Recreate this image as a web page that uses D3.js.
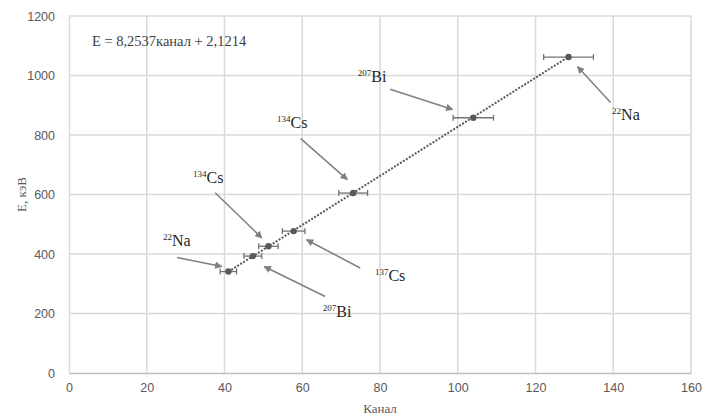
<!DOCTYPE html>
<html>
<head>
<meta charset="utf-8">
<script src="https://cdn.jsdelivr.net/npm/d3@7"></script>
<style>
  body { margin: 0; background: #fff; }
  svg { display: block; }
</style>
</head>
<body>
<svg id="chart" width="708" height="418"></svg>
<script>
// channel / energy of the Compton edges
var channels = [41.0, 47.3, 51.3, 57.8, 73.1, 104.0, 128.5];
var energies = [341, 393, 426, 477, 605, 858, 1062];
var chErrors = [2.1, 2.3, 2.5, 2.9, 3.7, 5.2, 6.4];

var xTicks = [0, 20, 40, 60, 80, 100, 120, 140, 160];
var yTicks = [0, 200, 400, 600, 800, 1000, 1200];

// linear fit E = a*channel + b
var fitSlope = 8.2537;
var fitIntercept = 2.1214;

// labels: [mass, element, label x, label y, arrow from x, from y, arrow to x, to y] (data units)
var notes = [
	["22", "Na", 24.2, 428, 27.8, 388, 39.3, 358],
	["207", "Bi", 65.3, 189, 65.9, 257, 50.2, 358],
	["134", "Cs", 31.9, 637, 37.6, 606, 49.6, 454],
	["137", "Cs", 78.7, 310, 74.9, 353, 61.1, 448],
	["134", "Cs", 53.5, 822, 59.6, 788, 71.6, 650],
	["207", "Bi", 74.3, 977, 82.6, 954, 98.7, 886],
	["22", "Na", 139.7, 849, 139.3, 909, 130.8, 1030]
];

var svg = d3.select("#chart"),
	margin = {top: 16, right: 17, bottom: 45, left: 69},
	width = +svg.attr("width") - margin.left - margin.right,
	height = +svg.attr("height") - margin.top - margin.bottom;

var x = d3.scaleLinear().domain([0, 160]).range([0, width]);
var y = d3.scaleLinear().domain([0, 1200]).range([height, 0]);

var g = svg.append("g")
	.attr("transform", "translate(" + margin.left + "," + margin.top + ")");

var defs = svg.append("defs");
defs.append("marker")
	.attr("id", "arrow")
	.attr("viewBox", "0 0 10 10")
	.attr("refX", 9).attr("refY", 5)
	.attr("markerWidth", 5).attr("markerHeight", 5)
	.attr("orient", "auto")
	.append("path")
	.attr("d", "M0,0 L10,5 L0,10 z")
	.attr("fill", "#808080");

// grid
g.append("g").selectAll("line")
	.data(yTicks.slice(1))
	.enter().append("line")
	.attr("x1", 0).attr("x2", width)
	.attr("y1", function(d) { return y(d); })
	.attr("y2", function(d) { return y(d); })
	.attr("stroke", "#d9d9d9").attr("stroke-width", 1.5);

g.append("g").selectAll("line")
	.data(xTicks.slice(1))
	.enter().append("line")
	.attr("y1", 0).attr("y2", height)
	.attr("x1", function(d) { return x(d); })
	.attr("x2", function(d) { return x(d); })
	.attr("stroke", "#d9d9d9").attr("stroke-width", 1.5);

// axes
var xAxis = g.append("g")
	.attr("transform", "translate(0," + height + ")")
	.call(d3.axisBottom(x).tickValues(xTicks).tickFormat(d3.format("d")).tickSize(0).tickPadding(10));
var yAxis = g.append("g")
	.call(d3.axisLeft(y).tickValues(yTicks).tickFormat(d3.format("d")).tickSize(0).tickPadding(14));

xAxis.select(".domain").attr("stroke", "#bfbfbf").attr("stroke-width", 1.5);
yAxis.select(".domain").attr("stroke", "#d9d9d9").attr("stroke-width", 1.5);
svg.selectAll(".tick text")
	.attr("fill", "#595959")
	.style("font-family", "'Liberation Sans', Arial, sans-serif")
	.style("font-size", "12.5px");

// axis titles
svg.append("text")
	.attr("x", margin.left + width / 2)
	.attr("y", 413)
	.attr("text-anchor", "middle")
	.attr("fill", "#595959")
	.style("font-family", "'Liberation Serif', serif")
	.style("font-size", "13px")
	.text("Канал");

svg.append("text")
	.attr("transform", "translate(26," + (margin.top + height / 2) + ") rotate(-90)")
	.attr("text-anchor", "middle")
	.attr("fill", "#595959")
	.style("font-family", "'Liberation Serif', serif")
	.style("font-size", "13px")
	.text("Е, кэВ");

// trend line
var xMin = d3.min(channels), xMax = d3.max(channels);
g.append("line")
	.attr("x1", x(xMin)).attr("y1", y(fitSlope * xMin + fitIntercept))
	.attr("x2", x(xMax)).attr("y2", y(fitSlope * xMax + fitIntercept))
	.attr("stroke", "#595959")
	.attr("stroke-width", 2)
	.attr("stroke-dasharray", "2,1.5");

// error bars
var pts = channels.map(function(c, i) { return {c: c, e: energies[i], err: chErrors[i]}; });

var eb = g.append("g").attr("stroke", "#737373").attr("stroke-width", 1.3);
eb.selectAll("line.bar")
	.data(pts).enter().append("line")
	.attr("class", "bar")
	.attr("x1", function(d) { return x(d.c - d.err); })
	.attr("x2", function(d) { return x(d.c + d.err); })
	.attr("y1", function(d) { return y(d.e); })
	.attr("y2", function(d) { return y(d.e); });
eb.selectAll("line.capl")
	.data(pts).enter().append("line")
	.attr("class", "capl")
	.attr("x1", function(d) { return x(d.c - d.err); })
	.attr("x2", function(d) { return x(d.c - d.err); })
	.attr("y1", function(d) { return y(d.e) - 3; })
	.attr("y2", function(d) { return y(d.e) + 3; });
eb.selectAll("line.capr")
	.data(pts).enter().append("line")
	.attr("class", "capr")
	.attr("x1", function(d) { return x(d.c + d.err); })
	.attr("x2", function(d) { return x(d.c + d.err); })
	.attr("y1", function(d) { return y(d.e) - 3; })
	.attr("y2", function(d) { return y(d.e) + 3; });

// points
g.append("g").selectAll("circle")
	.data(pts).enter().append("circle")
	.attr("cx", function(d) { return x(d.c); })
	.attr("cy", function(d) { return y(d.e); })
	.attr("r", 3.2)
	.attr("fill", "#595959");

// equation
g.append("text")
	.attr("x", x(5.9)).attr("y", y(1099))
	.attr("fill", "#404040")
	.style("font-family", "'Liberation Serif', serif")
	.style("font-size", "14.5px")
	.text("E = 8,2537канал + 2,1214");

// annotations
var ann = g.append("g");
ann.selectAll("line")
	.data(notes).enter().append("line")
	.attr("x1", function(d) { return x(d[4]); })
	.attr("y1", function(d) { return y(d[5]); })
	.attr("x2", function(d) { return x(d[6]); })
	.attr("y2", function(d) { return y(d[7]); })
	.attr("stroke", "#808080")
	.attr("stroke-width", 1.5)
	.attr("marker-end", "url(#arrow)");

var labels = ann.selectAll("text")
	.data(notes).enter().append("text")
	.attr("x", function(d) { return x(d[2]); })
	.attr("y", function(d) { return y(d[3]); })
	.attr("fill", "#262626")
	.style("font-family", "'Liberation Serif', serif");
labels.append("tspan")
	.attr("dy", -6)
	.style("font-size", "9px")
	.text(function(d) { return d[0]; });
labels.append("tspan")
	.attr("dy", 6)
	.style("font-size", "16px")
	.text(function(d) { return d[1]; });
</script>
</body>
</html>
